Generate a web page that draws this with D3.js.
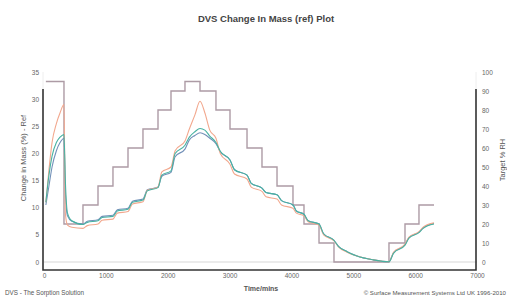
<!DOCTYPE html>
<html>
<head>
<meta charset="utf-8">
<script src="https://cdn.jsdelivr.net/npm/d3@7"></script>
<style>
  body { margin: 0; background: #fff; }
  text { font-family: "Liberation Sans", Arial, sans-serif; }
</style>
</head>
<body>
<div id="chart"></div>
<script>
// sample times (min) for mass curves
const massTime = [30, 80, 130, 200, 260, 323, 345, 380, 450, 630, 700, 873, 940, 1115, 1185, 1358,
  1430, 1600, 1670, 1843, 1905, 2053, 2120, 2279, 2350, 2440, 2522, 2600, 2680, 2780, 2850, 3007,
  3080, 3282, 3350, 3524, 3590, 3767, 3840, 4025, 4080, 4203, 4270, 4446, 4520, 4688, 4760, 4900,
  5060, 5319, 5577, 5650, 5836, 5900, 6062, 6130, 6305];

const massOrange = [11.0, 17.0, 22.0, 25.5, 27.5, 29.0, 9.0, 6.8, 6.4, 6.2, 6.7, 7.0, 7.7, 7.9, 9.0, 9.3,
  10.7, 11.1, 13.2, 13.8, 16.6, 17.5, 20.5, 22.3, 24.5, 27.1, 29.6, 27.5, 24.3, 22.8, 20.0, 18.0,
  16.2, 15.3, 13.8, 13.0, 12.0, 11.6, 10.5, 9.9, 9.0, 8.5, 7.4, 6.8, 5.0, 3.9, 2.8, 1.8,
  1.1, 0.4, 0.05, 1.8, 3.3, 4.6, 5.6, 6.4, 7.2];

const massTeal = [11.0, 16.0, 19.5, 22.0, 23.0, 23.5, 15.0, 9.0, 7.6, 6.9, 7.3, 7.6, 8.2, 8.4, 9.4, 9.7,
  11.0, 11.4, 13.1, 13.7, 16.0, 16.8, 20.0, 21.5, 23.0, 24.0, 24.6, 24.3, 23.2, 22.0, 20.4, 18.8,
  17.0, 16.0, 14.5, 13.6, 12.8, 12.4, 11.3, 10.5, 9.4, 8.8, 7.6, 7.0, 5.2, 4.0, 2.9, 1.9,
  1.1, 0.4, 0.05, 1.6, 3.1, 4.4, 5.4, 6.2, 7.0];

const massBlue = [10.5, 14.0, 17.5, 20.5, 22.0, 22.8, 13.0, 8.5, 7.5, 7.0, 7.5, 7.8, 8.4, 8.6, 9.6, 9.9,
  11.2, 11.6, 13.3, 13.8, 15.8, 16.5, 19.4, 20.8, 22.5, 23.3, 23.8, 23.5, 22.8, 21.8, 20.3, 18.8,
  17.0, 16.0, 14.5, 13.6, 12.8, 12.4, 11.3, 10.5, 9.4, 8.8, 7.6, 7.0, 5.2, 4.0, 2.9, 1.9,
  1.1, 0.4, 0.05, 1.7, 3.2, 4.5, 5.5, 6.3, 7.1];

// target RH steps (time at which each level starts)
const rhTime = [30, 323, 630, 873, 1115, 1358, 1600, 1843, 2053, 2279, 2522, 2780, 3007, 3282,
  3524, 3767, 4025, 4203, 4446, 4688, 5577, 5836, 6062, 6305];
const rhValue = [95, 20, 30, 40, 50, 60, 70, 80, 90, 95, 90, 80, 70, 60, 50, 40, 30, 20, 10, 0,
  10, 20, 30, 30];

const xTicks = [0, 1000, 2000, 3000, 4000, 5000, 6000, 7000];
const leftTicks = [0, 5, 10, 15, 20, 25, 30, 35];
const rightTicks = [0, 10, 20, 30, 40, 50, 60, 70, 80, 90, 100];

const width = 507, height = 297;

const svg = d3.select("#chart").append("svg")
    .attr("width", width)
    .attr("height", height);

const x = d3.scaleLinear().domain([0, 7000]).range([44, 477]);
const yL = d3.scaleLinear().domain([0, 35]).range([262, 72]);
const yR = d3.scaleLinear().domain([0, 100]).range([262, 72]);

// title
svg.append("text")
    .attr("x", 266).attr("y", 22)
    .attr("text-anchor", "middle")
    .attr("font-size", 9.5).attr("font-weight", "bold").attr("fill", "#444")
    .text("DVS Change In Mass (ref) Plot");

// light frame pieces and zero line
svg.append("line")
    .attr("x1", x(0)).attr("x2", x(7000))
    .attr("y1", yL(0)).attr("y2", yL(0))
    .attr("stroke", "#e4e4e4").attr("stroke-width", 1.5);
svg.append("line")
    .attr("x1", 43).attr("x2", 43).attr("y1", 72).attr("y2", 89)
    .attr("stroke", "#eee");
svg.append("line")
    .attr("x1", 476).attr("x2", 476).attr("y1", 72).attr("y2", 89)
    .attr("stroke", "#eee");

// axes
const gx = svg.append("g")
    .attr("transform", "translate(0,270)")
    .call(d3.axisBottom(x).tickValues(xTicks).tickSize(0).tickPadding(3).tickFormat(d3.format("d")));
const gl = svg.append("g")
    .attr("transform", "translate(40,0)")
    .call(d3.axisLeft(yL).tickValues(leftTicks).tickSize(0).tickPadding(1));
const gr = svg.append("g")
    .attr("transform", "translate(481,0)")
    .call(d3.axisRight(yR).tickValues(rightTicks).tickSize(0).tickPadding(1));

[gx, gl, gr].forEach(function(g) {
    g.select(".domain").remove();
    g.selectAll("text")
        .attr("font-size", 6.5)
        .attr("fill", "#666")
        .attr("font-family", "Liberation Sans, Arial, sans-serif");
});

svg.append("path")
    .attr("d", "M43,89 L43,270 L476,270 L476,89")
    .attr("fill", "none")
    .attr("stroke", "#333")
    .attr("stroke-width", 1.6);

// axis titles
svg.append("text")
    .attr("transform", "translate(26,158) rotate(-90)")
    .attr("text-anchor", "middle")
    .attr("font-size", 7.5).attr("fill", "#555")
    .text("Change in Mass (%) - Ref");
svg.append("text")
    .attr("transform", "translate(505,160) rotate(-90)")
    .attr("text-anchor", "middle")
    .attr("font-size", 7.5).attr("fill", "#555")
    .text("Target % RH");
svg.append("text")
    .attr("x", 261).attr("y", 291)
    .attr("text-anchor", "middle")
    .attr("font-size", 7).attr("font-weight", "bold").attr("fill", "#555")
    .text("Time/mins");
svg.append("text")
    .attr("x", 5).attr("y", 295)
    .attr("font-size", 6.3).attr("fill", "#555")
    .text("DVS - The Sorption Solution");
svg.append("text")
    .attr("x", 506).attr("y", 295)
    .attr("text-anchor", "end")
    .attr("font-size", 6.1).attr("fill", "#555")
    .text("© Surface Measurement Systems Ltd UK 1996-2010");

// target RH
const rhData = rhTime.map(function(t, i) { return {t: t, v: rhValue[i]}; });
svg.append("path")
    .datum(rhData)
    .attr("fill", "none")
    .attr("stroke", "#ad9ba5")
    .attr("stroke-width", 1.4)
    .attr("d", d3.line()
        .x(function(d) { return x(d.t); })
        .y(function(d) { return yR(d.v); })
        .curve(d3.curveStepAfter));

// mass curves
const series = [
    {vals: massBlue, color: "#7290b8"},
    {vals: massOrange, color: "#f2a88e"},
    {vals: massTeal, color: "#48b2a2"}
];

const massLine = d3.line()
    .x(function(d) { return x(d.t); })
    .y(function(d) { return yL(d.v); })
    .curve(d3.curveMonotoneX);

series.forEach(function(s) {
    const pts = massTime.map(function(t, i) { return {t: t, v: s.vals[i]}; });
    svg.append("path")
        .datum(pts)
        .attr("fill", "none")
        .attr("stroke", s.color)
        .attr("stroke-width", 1.1)
        .attr("d", massLine);
});
</script>
</body>
</html>
